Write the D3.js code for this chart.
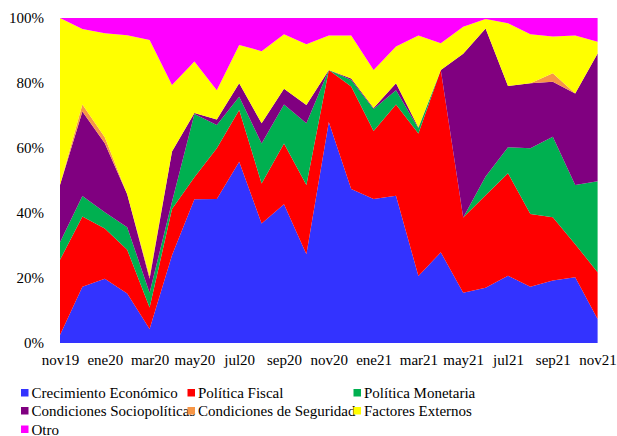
<!DOCTYPE html>
<html><head><meta charset="utf-8">
<script src="https://cdn.jsdelivr.net/npm/d3@7"></script>
</head><body style="margin:0">
<script>
const months = ["nov19","dic19","ene20","feb20","mar20","abr20","may20","jun20","jul20","ago20","sep20","oct20","nov20","dic20","ene21","feb21","mar21","abr21","may21","jun21","jul21","ago21","sep21","oct21","nov21"];
const tickLabels = ["nov19","ene20","mar20","may20","jul20","sep20","nov20","ene21","mar21","may21","jul21","sep21","nov21"];
const seriesNames = ["Crecimiento Económico","Política Fiscal","Política Monetaria","Condiciones Sociopolíticas","Condiciones de Seguridad","Factores Externos","Otro"];
const colors = ["#3333FF","#FF0000","#00B050","#800080","#F79646","#FFFF00","#FF00FF"];
const crecimiento = [2.5,17.3,19.8,15.2,4.3,27,44.2,44.3,55.8,36.8,42.7,27.3,68,47.4,44.3,45.3,20.6,27.9,15.5,17,20.7,17.3,19.2,20.2,7.4];
const fiscal      = [23.1,21.6,15.4,13.5,6.6,14.2,6.8,15.6,15.9,12.3,18.7,21.3,16,31.5,20.9,28.1,43.9,56.1,23.1,28.5,31.5,22.4,19.5,10.2,14.4];
const monetaria   = [5.4,6.3,5,6.9,4.6,2.3,19.5,7.2,4.1,12.3,12,19,0,2,6.8,4.4,1.6,0,0,5.7,8,20.2,24.8,18.2,28];
const sociopol    = [17.6,26,21.3,10.2,4.3,15.4,0.3,1.7,4.1,6.2,4.8,5.6,0,0.5,0.3,2.1,0.2,0,50.4,45.6,18.9,20,16.9,28.2,39.3];
const seguridad   = [0,2.2,1.8,0,0.8,0,0,0,0,0,0,0,0,0,0,0,0,0,0,0,0,0,2.6,0,0];
const externos    = [51.4,23.2,32,48.9,72.6,20.5,15.8,9,11.8,22.2,16.8,18.7,10.6,13.2,11.7,11.3,28.3,8.2,8.3,2.9,19.3,15.1,11.3,17.8,3.6];
const otro        = [0,3.4,4.7,5.3,6.8,20.6,13.4,22.2,8.3,10.2,5,8.1,5.4,5.4,16,8.8,5.4,7.8,2.7,0.3,1.6,5,5.7,5.4,7.3];
const yTicks = [0,20,40,60,80,100];

const FONT = "'Liberation Serif'";
const BASE = 20, K = 0.75; // drawn at 20px and scaled to 15px
const allSeries = [crecimiento,fiscal,monetaria,sociopol,seguridad,externos,otro];
const rows = months.map((m,i)=>{const r={month:m};seriesNames.forEach((s,k)=>r[s]=allSeries[k][i]);return r;});

const W=617,H=436;
const svg=d3.select("body").append("svg").attr("width",W).attr("height",H);
const x=d3.scalePoint().domain(months).range([60,597.6]);
const y=d3.scaleLinear().domain([0,100]).range([343,18]);
const stack=d3.stack().keys(seriesNames).offset(d3.stackOffsetExpand);
const layers=stack(rows);
const area=d3.area().x(d=>x(d.data.month)).y0(d=>y(d[0]*100)).y1(d=>y(d[1]*100));
svg.selectAll("path.layer").data(layers).join("path").attr("class","layer")
  .attr("d",area).attr("fill",(d,i)=>colors[i]);

function serif(sel){
  sel.attr("font-size",BASE).attr("font-family",FONT).attr("fill","#000");
}

const yAxis=d3.axisLeft(y).tickValues(yTicks).tickFormat(d=>d+"%").tickSize(0).tickPadding(16);
const gy=svg.append("g").attr("transform","translate(60,0)").call(yAxis);
gy.attr("font-family",null).attr("font-size",null);
gy.select(".domain").remove();
gy.selectAll("text").call(serif).attr("x",-16/K).attr("transform",`scale(${K})`);

const xAxis=d3.axisBottom(x).tickValues(tickLabels).tickSize(0).tickPadding(11);
const gx=svg.append("g").attr("transform","translate(0,343)").call(xAxis);
gx.attr("font-family",null).attr("font-size",null);
gx.select(".domain").remove();
gx.selectAll("text").call(serif).attr("y",11/K).attr("transform",`scale(${K})`);

const colX=[21,187.5,353.5], rowY=[393,411,429.5];
seriesNames.forEach((s,i)=>{
  const cx=colX[i%3], cy=rowY[Math.floor(i/3)];
  svg.append("rect").attr("x",cx).attr("y",cy-4).attr("width",7.5).attr("height",7.5).attr("fill",colors[i]);
  svg.append("text").attr("x",0).attr("y",0).call(serif)
    .attr("transform",`translate(${cx+10.5},${cy+5}) scale(${K})`).text(s);
});
</script></body></html>
